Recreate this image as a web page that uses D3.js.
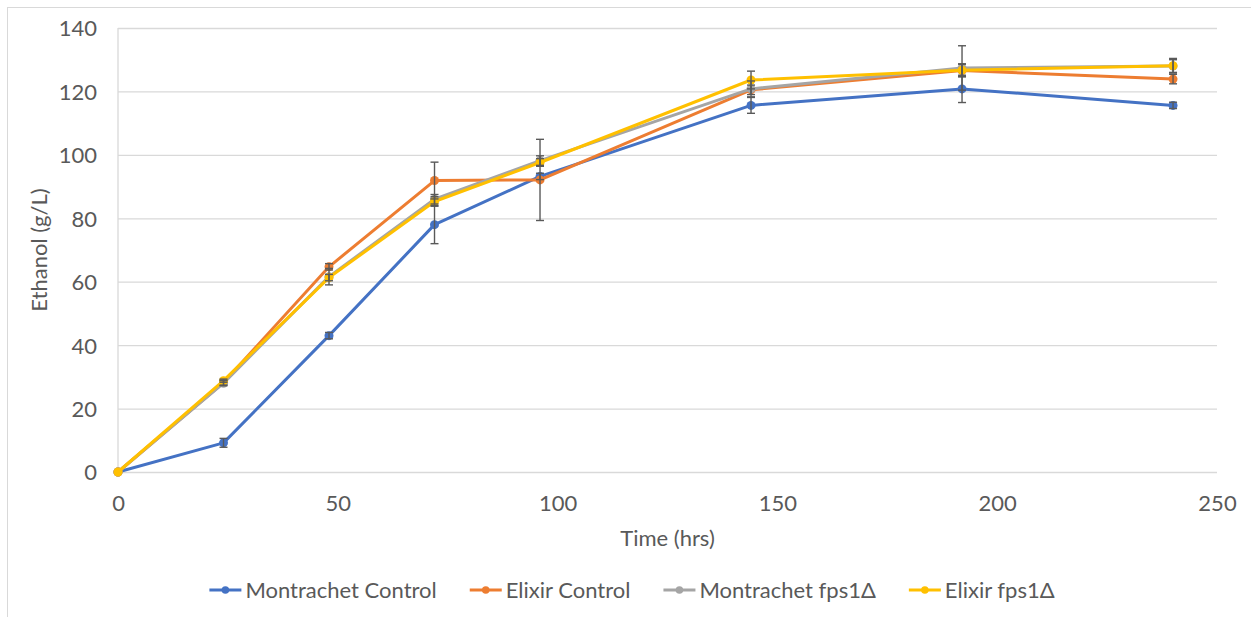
<!DOCTYPE html>
<html>
<head>
<meta charset="utf-8">
<script src="https://cdn.jsdelivr.net/npm/d3@7"></script>
<style>
  html, body { margin: 0; padding: 0; background: #fff; }
  svg { display: block; }
  text { font-family: Lato, "Open Sans", sans-serif; fill: #595959; }
</style>
</head>
<body>
<svg id="chart" width="1251" height="617"></svg>
<script>
// Sampling times (hours)
const times = [0, 24, 48, 72, 96, 144, 192, 240];

// Ethanol concentration (g/L) per strain
const montrachetControl = [0, 9.2, 43.0, 78.0, 93.2, 115.6, 120.8, 115.6];
const elixirControl     = [0, 28.2, 64.7, 91.9, 92.1, 120.5, 126.6, 123.9];
const montrachetFps1    = [0, 28.0, 61.6, 86.0, 98.2, 120.8, 127.4, 128.0];
const elixirFps1        = [0, 28.8, 61.3, 85.3, 97.6, 123.6, 126.7, 128.1];

// Standard deviations
const montrachetControlErr = [0, 1.4, 1.0, 6.0, 1.0, 2.5, 4.3, 1.0];
const elixirControlErr     = [0, 0.8, 1.0, 5.8, 12.8, 1.5, 2.0, 1.5];
const montrachetFps1Err    = [0, 0.8, 2.6, 1.5, 1.5, 2.5, 7.0, 2.0];
const elixirFps1Err        = [0, 0.5, 1.0, 1.5, 1.2, 2.8, 2.0, 2.3];

const seriesNames = ["Montrachet Control", "Elixir Control", "Montrachet fps1\u0394", "Elixir fps1\u0394"];
const seriesColors = ["#4472C4", "#ED7D31", "#A5A5A5", "#FFC000"];

const xTicks = [0, 50, 100, 150, 200, 250];
const yTicks = [0, 20, 40, 60, 80, 100, 120, 140];

const series = [
  { name: seriesNames[0], color: seriesColors[0], values: montrachetControl, err: montrachetControlErr },
  { name: seriesNames[1], color: seriesColors[1], values: elixirControl, err: elixirControlErr },
  { name: seriesNames[2], color: seriesColors[2], values: montrachetFps1, err: montrachetFps1Err },
  { name: seriesNames[3], color: seriesColors[3], values: elixirFps1, err: elixirFps1Err }
];

const svg = d3.select("#chart");
const W = 1251, H = 617;
const plot = { left: 118, right: 1217, top: 28, bottom: 472 };
const fontSize = "22px";

// Chart area frame
svg.append("rect")
  .attr("x", 7.5).attr("y", 7.5)
  .attr("width", W + 10).attr("height", H + 10)
  .attr("fill", "#fff").attr("stroke", "#D9D9D9").attr("stroke-width", 1);

const x = d3.scaleLinear().domain([0, 250]).range([plot.left, plot.right]);
const y = d3.scaleLinear().domain([0, 140]).range([plot.bottom, plot.top]);

// Horizontal gridlines with value labels
const yAxis = d3.axisLeft(y).tickValues(yTicks).tickSize(-(plot.right - plot.left)).tickPadding(21).tickFormat(d3.format("d"));
const gy = svg.append("g").attr("transform", `translate(${plot.left},0)`).call(yAxis);
gy.select(".domain").remove();
gy.selectAll(".tick line").attr("stroke", "#D9D9D9").attr("stroke-width", 1.3);
gy.selectAll(".tick text").style("font-size", fontSize).attr("fill", "#595959").attr("dy", "0.36em");

// Vertical axis line
svg.append("line")
  .attr("x1", plot.left).attr("x2", plot.left)
  .attr("y1", plot.top).attr("y2", plot.bottom)
  .attr("stroke", "#D9D9D9").attr("stroke-width", 1.3);

// X axis labels
const xAxis = d3.axisBottom(x).tickValues(xTicks).tickSize(0).tickPadding(23).tickFormat(d3.format("d"));
const gx = svg.append("g").attr("transform", `translate(0,${plot.bottom})`).call(xAxis);
gx.select(".domain").remove();
gx.selectAll(".tick text").style("font-size", fontSize).attr("fill", "#595959");

// Axis titles
svg.append("text")
  .attr("x", (plot.left + plot.right) / 2).attr("y", 546)
  .attr("text-anchor", "middle").style("font-size", fontSize)
  .text("Time (hrs)");

svg.append("text")
  .attr("transform", `translate(47,${(plot.top + plot.bottom) / 2}) rotate(-90)`)
  .attr("text-anchor", "middle").style("font-size", fontSize)
  .text("Ethanol (g/L)");

// Series lines and markers
const line = d3.line().x((d, i) => x(times[i])).y(d => y(d));

series.forEach(s => {
  const g = svg.append("g");
  g.append("path")
    .datum(s.values)
    .attr("d", line)
    .attr("fill", "none")
    .attr("stroke", s.color)
    .attr("stroke-width", 3)
    .attr("stroke-linejoin", "round");
  g.selectAll("circle")
    .data(s.values)
    .join("circle")
    .attr("cx", (d, i) => x(times[i]))
    .attr("cy", d => y(d))
    .attr("r", 4.5)
    .attr("fill", s.color);
});

// Error bars
series.forEach(s => {
  const g = svg.append("g").attr("stroke", "#595959").attr("stroke-width", 1.4);
  s.values.forEach((v, i) => {
    const e = s.err[i];
    if (!e) return;
    const cx = x(times[i]);
    g.append("line").attr("x1", cx).attr("x2", cx).attr("y1", y(v - e)).attr("y2", y(v + e));
    g.append("line").attr("x1", cx - 4).attr("x2", cx + 4).attr("y1", y(v - e)).attr("y2", y(v - e));
    g.append("line").attr("x1", cx - 4).attr("x2", cx + 4).attr("y1", y(v + e)).attr("y2", y(v + e));
  });
});

// Legend
const legend = svg.append("g");
let lx = 0;
series.forEach(s => {
  const it = legend.append("g").attr("transform", `translate(${lx},0)`);
  it.append("line").attr("x1", 0).attr("x2", 32).attr("y1", 0).attr("y2", 0)
    .attr("stroke", s.color).attr("stroke-width", 3);
  it.append("circle").attr("cx", 16).attr("cy", 0).attr("r", 3.8).attr("fill", s.color);
  const t = it.append("text").attr("x", 36).attr("y", 0).attr("dy", "0.36em")
    .style("font-size", fontSize).text(s.name);
  const w = t.node().getComputedTextLength();
  lx += 36 + w + 33;
});
const legendWidth = lx - 33;
legend.attr("transform", `translate(${632 - legendWidth / 2},590)`);
</script>
</body>
</html>
